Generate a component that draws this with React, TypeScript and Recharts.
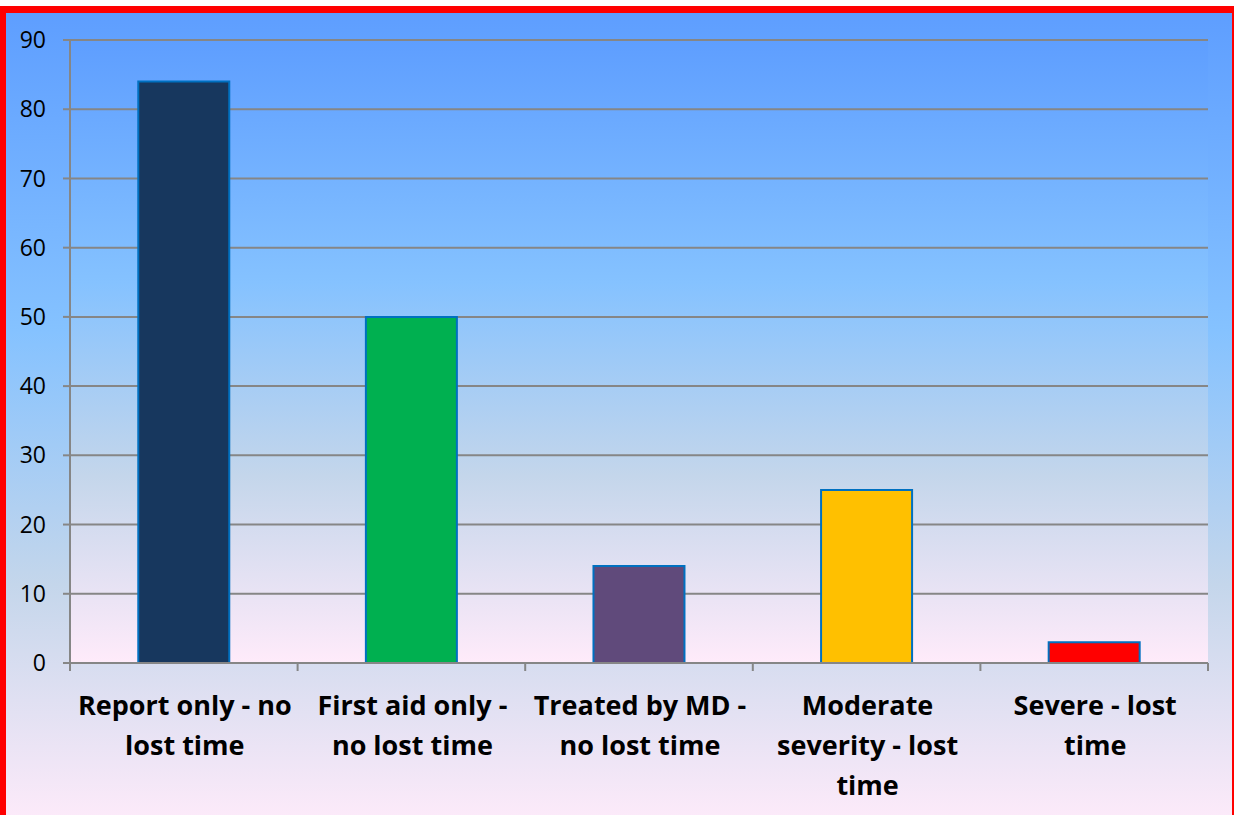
import { BarChart, Bar, XAxis, YAxis, CartesianGrid, Cell } from 'recharts';

const categories = [
  'Report only - no lost time',
  'First aid only - no lost time',
  'Treated by MD - no lost time',
  'Moderate severity - lost time',
  'Severe - lost time',
];
const categoryLines = [
  ['Report only - no', 'lost time'],
  ['First aid only -', 'no lost time'],
  ['Treated by MD -', 'no lost time'],
  ['Moderate', 'severity - lost', 'time'],
  ['Severe - lost', 'time'],
];
const values = [84, 50, 14, 25, 3];
const barColors = ['#17375e', '#00b050', '#604a7b', '#ffc000', '#ff0000'];
const yTicks = [0, 10, 20, 30, 40, 50, 60, 70, 80, 90];

const data = categories.map((name, i) => ({ name, value: values[i], idx: i }));

const W = 1234;
const H = 815;
const MARGIN = { top: 40, right: 26, left: 10, bottom: 0 };
const Y_AXIS_W = 60;
const PLOT_W = W - MARGIN.left - Y_AXIS_W - MARGIN.right;
const BAND = PLOT_W / categories.length;
const GRID = '#868686';
const FONT = '"Open Sans", Lato, sans-serif';

// Daybreak-style gradient stops
const STOPS = [
  { o: '0%', c: '#5e9eff' },
  { o: '39%', c: '#85c2ff' },
  { o: '70%', c: '#c4d6eb' },
  { o: '100%', c: '#ffebfa' },
];

function CategoryTick(props: any) {
  const { x, y, payload, index } = props;
  const lines = categoryLines[index] ?? [payload.value];
  const isLast = index === categories.length - 1;
  const cx = x + 1;
  return (
    <g>
      <line x1={x - BAND / 2} x2={x - BAND / 2} y1={y} y2={y + 8} stroke={GRID} strokeWidth={2} />
      {isLast && (
        <line x1={x + BAND / 2} x2={x + BAND / 2} y1={y} y2={y + 8} stroke={GRID} strokeWidth={2} />
      )}
      <text
        x={cx}
        y={y + 52}
        textAnchor="middle"
        fontFamily={FONT}
        fontWeight={700}
        fontSize={27}
        fill="#000"
      >
        {lines.map((l: string, i: number) => (
          <tspan key={i} x={cx} dy={i === 0 ? 0 : 40}>
            {l}
          </tspan>
        ))}
      </text>
    </g>
  );
}

export default function App() {
  const grad = `linear-gradient(to bottom, ${STOPS.map((s) => `${s.c} ${s.o}`).join(', ')})`;
  return (
    <div
      style={{
        position: 'fixed',
        left: 0,
        top: 0,
        width: W,
        height: H,
        overflow: 'hidden',
        background: '#fff',
      }}
    >
      <div
        style={{
          position: 'absolute',
          left: 0,
          top: 6,
          width: 1239,
          height: 830,
          boxSizing: 'border-box',
          borderStyle: 'solid',
          borderColor: '#ff0000',
          borderWidth: '7px 7px 7px 6px',
          background: grad,
        }}
      />
      <div style={{ position: 'absolute', left: 0, top: 0 }}>
        <BarChart width={W} height={H} data={data} margin={MARGIN} barCategoryGap="30%">
          <defs>
            <linearGradient id="plotGrad" x1="0" y1="0" x2="0" y2="1">
              {STOPS.map((s) => (
                <stop key={s.o} offset={s.o} stopColor={s.c} />
              ))}
            </linearGradient>
          </defs>
          <CartesianGrid
            vertical={false}
            stroke={GRID}
            strokeWidth={2}
            fill="url(#plotGrad)"
            fillOpacity={1}
          />
          <XAxis
            dataKey="name"
            interval={0}
            height={H - 663}
            tickLine={false}
            tickSize={0}
            tickMargin={0}
            axisLine={{ stroke: GRID, strokeWidth: 2 }}
            tick={<CategoryTick />}
          />
          <YAxis
            width={Y_AXIS_W}
            domain={[0, 90]}
            ticks={yTicks}
            interval={0}
            tickSize={7}
            tickMargin={17}
            axisLine={{ stroke: GRID, strokeWidth: 2 }}
            tickLine={{ stroke: GRID, strokeWidth: 2 }}
            tick={{ fill: '#000', fontSize: 23, fontFamily: FONT }}
          />
          <Bar dataKey="value" stroke="#0070c0" strokeWidth={2} isAnimationActive={false}>
            {data.map((d) => (
              <Cell key={d.name} fill={barColors[d.idx]} />
            ))}
          </Bar>
        </BarChart>
      </div>
    </div>
  );
}
